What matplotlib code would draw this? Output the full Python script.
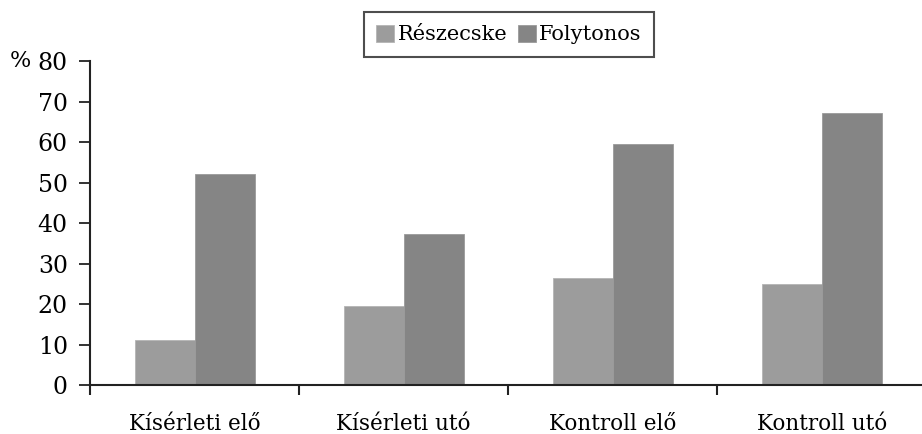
import numpy as np
import matplotlib.pyplot as plt

categories = ['Kísérleti elő', 'Kísérleti utó', 'Kontroll elő', 'Kontroll utó']
reszecske = [11.1, 19.5, 26.5, 24.9]
folytonos = [52.0, 37.2, 59.4, 67.2]

plt.rcParams['font.family'] = ['DejaVu Serif']

fig = plt.figure(figsize=(9.22, 4.34), dpi=100)
ax = fig.add_axes([0.0976, 0.1129, 0.9024, 0.7465])

x = np.arange(len(categories))
w = 0.287
ax.bar(x - w / 2, reszecske, w, color='#9c9c9c', edgecolor='#b4b4b4', linewidth=0.6, label='Részecske')
ax.bar(x + w / 2, folytonos, w, color='#858585', edgecolor='#9a9a9a', linewidth=0.6, label='Folytonos')

ax.set_ylim(0, 80)
ax.set_yticks(np.arange(0, 81, 10))
ax.set_xlim(-0.5, 3.48)
ax.set_xticks(x)
ax.set_xticklabels(categories)
ax.set_xticks([-0.5, 0.5, 1.5, 2.5], minor=True)
ax.tick_params(axis='x', which='major', length=0, pad=20, labelsize=15.5)
ax.tick_params(axis='x', which='minor', length=7, width=1.5, direction='out', color='#222222')
ax.tick_params(axis='y', length=8, width=1.3, labelsize=17, pad=8, color='#222222')

for s in ['top', 'right']:
    ax.spines[s].set_visible(False)
for s in ['left', 'bottom']:
    ax.spines[s].set_linewidth(1.5)
    ax.spines[s].set_color('#222222')

fig.text(0.011, 0.8594, '%', fontsize=16, va='center', ha='left')

leg = fig.legend(loc='upper center', bbox_to_anchor=(0.552, 0.972), ncol=2, fontsize=15,
                 frameon=True, fancybox=False, edgecolor='#222222', handlelength=0.87,
                 handleheight=0.87, handletextpad=0.15, columnspacing=0.5, borderpad=0.6,
                 borderaxespad=0.0)
leg.get_frame().set_linewidth(1.5)

fig.savefig('out.png', dpi=100)
